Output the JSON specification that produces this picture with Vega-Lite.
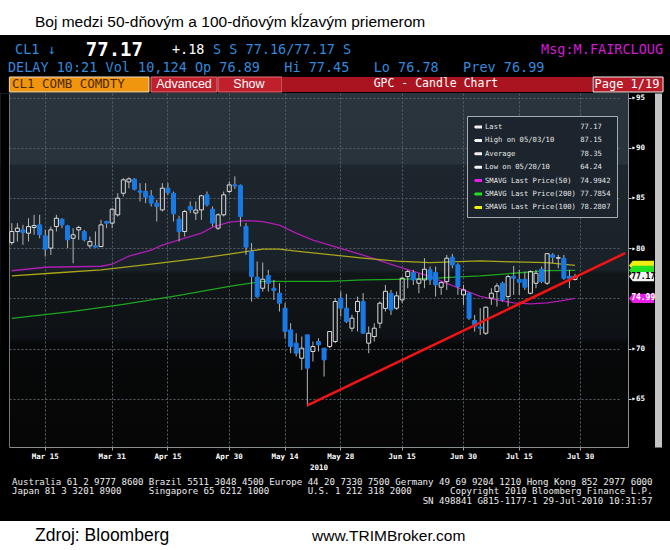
{
"$schema": "https://vega.github.io/schema/vega-lite/v6.json",
"background": "black",
"padding": 0,
"spacing": 0,
"resolve": {"legend": {"fill": "independent", "stroke": "independent"}},
"config": {"view": {"stroke": null}, "concat": {"spacing": 0}},
"datasets": {
"candles": [
{"d":"2010-03-05","o":80.56,"h":82.49,"l":80.33,"c":81.66},
{"d":"2010-03-08","o":81.66,"h":82.49,"l":80.66,"c":81.99},
{"d":"2010-03-09","o":81.82,"h":82.32,"l":80.33,"c":81.56},
{"d":"2010-03-10","o":81.49,"h":82.98,"l":80.66,"c":82.15},
{"d":"2010-03-11","o":82.06,"h":83.32,"l":81.33,"c":82.25},
{"d":"2010-03-12","o":82.32,"h":83.32,"l":80.99,"c":81.33},
{"d":"2010-03-15","o":81.23,"h":81.82,"l":79.17,"c":79.90},
{"d":"2010-03-16","o":80.00,"h":82.15,"l":79.33,"c":81.82},
{"d":"2010-03-17","o":82.15,"h":83.32,"l":81.66,"c":82.98},
{"d":"2010-03-18","o":82.88,"h":82.98,"l":81.99,"c":82.32},
{"d":"2010-03-19","o":82.22,"h":82.32,"l":80.00,"c":80.83},
{"d":"2010-03-22","o":80.99,"h":81.99,"l":78.50,"c":81.33},
{"d":"2010-03-23","o":81.82,"h":82.22,"l":80.83,"c":82.06},
{"d":"2010-03-24","o":81.66,"h":81.82,"l":80.66,"c":80.83},
{"d":"2010-03-25","o":80.23,"h":81.16,"l":80.00,"c":80.66},
{"d":"2010-03-26","o":80.23,"h":81.66,"l":80.05,"c":80.10},
{"d":"2010-03-29","o":80.16,"h":82.82,"l":80.10,"c":82.32},
{"d":"2010-03-30","o":82.65,"h":82.72,"l":81.99,"c":82.49},
{"d":"2010-03-31","o":82.49,"h":83.98,"l":81.99,"c":83.88},
{"d":"2010-04-01","o":83.32,"h":85.47,"l":83.15,"c":84.98},
{"d":"2010-04-05","o":85.47,"h":86.97,"l":85.14,"c":86.80},
{"d":"2010-04-06","o":86.60,"h":87.05,"l":85.97,"c":86.90},
{"d":"2010-04-07","o":86.87,"h":86.97,"l":85.74,"c":85.87},
{"d":"2010-04-08","o":85.70,"h":86.47,"l":84.65,"c":85.57},
{"d":"2010-04-09","o":85.64,"h":86.47,"l":84.48,"c":85.08},
{"d":"2010-04-12","o":85.21,"h":85.80,"l":84.15,"c":84.48},
{"d":"2010-04-13","o":84.48,"h":84.81,"l":82.65,"c":84.15},
{"d":"2010-04-14","o":83.81,"h":86.47,"l":83.65,"c":85.97},
{"d":"2010-04-15","o":85.97,"h":86.47,"l":85.31,"c":85.54},
{"d":"2010-04-16","o":85.47,"h":85.64,"l":82.65,"c":83.42},
{"d":"2010-04-19","o":82.88,"h":83.22,"l":80.66,"c":81.66},
{"d":"2010-04-20","o":81.66,"h":83.81,"l":81.16,"c":83.65},
{"d":"2010-04-21","o":84.15,"h":84.65,"l":83.48,"c":83.81},
{"d":"2010-04-22","o":83.50,"h":84.65,"l":82.80,"c":83.80},
{"d":"2010-04-23","o":83.81,"h":85.31,"l":82.82,"c":85.21},
{"d":"2010-04-26","o":85.31,"h":85.64,"l":84.15,"c":84.31},
{"d":"2010-04-27","o":83.88,"h":84.15,"l":82.15,"c":82.49},
{"d":"2010-04-28","o":81.99,"h":83.48,"l":81.82,"c":83.32},
{"d":"2010-04-29","o":83.32,"h":85.64,"l":83.15,"c":85.31},
{"d":"2010-04-30","o":85.64,"h":86.64,"l":85.47,"c":86.30},
{"d":"2010-05-03","o":86.30,"h":87.15,"l":85.90,"c":86.20},
{"d":"2010-05-04","o":86.25,"h":86.35,"l":82.16,"c":83.15},
{"d":"2010-05-05","o":82.16,"h":82.50,"l":79.33,"c":80.10},
{"d":"2010-05-06","o":79.67,"h":80.50,"l":74.69,"c":77.18},
{"d":"2010-05-07","o":77.11,"h":78.67,"l":75.02,"c":75.18},
{"d":"2010-05-10","o":76.01,"h":78.57,"l":75.68,"c":76.91},
{"d":"2010-05-11","o":77.28,"h":77.84,"l":75.68,"c":76.51},
{"d":"2010-05-12","o":76.01,"h":76.84,"l":74.85,"c":75.78},
{"d":"2010-05-13","o":75.52,"h":76.51,"l":73.69,"c":74.52},
{"d":"2010-05-14","o":74.02,"h":74.52,"l":71.03,"c":71.70},
{"d":"2010-05-17","o":71.86,"h":72.53,"l":69.54,"c":70.20},
{"d":"2010-05-18","o":70.54,"h":71.53,"l":69.21,"c":69.54},
{"d":"2010-05-19","o":69.04,"h":71.20,"l":67.88,"c":70.04},
{"d":"2010-05-20","o":71.37,"h":71.37,"l":64.24,"c":68.05},
{"d":"2010-05-21","o":69.71,"h":70.70,"l":68.71,"c":70.21},
{"d":"2010-05-24","o":70.70,"h":71.03,"l":69.71,"c":70.37},
{"d":"2010-05-25","o":70.04,"h":70.04,"l":67.22,"c":68.88},
{"d":"2010-05-26","o":70.20,"h":71.70,"l":70.04,"c":71.70},
{"d":"2010-05-27","o":70.70,"h":75.02,"l":70.54,"c":74.69},
{"d":"2010-05-28","o":75.02,"h":75.68,"l":73.19,"c":74.02},
{"d":"2010-06-01","o":74.02,"h":75.45,"l":72.53,"c":72.69},
{"d":"2010-06-02","o":72.03,"h":73.36,"l":71.70,"c":73.03},
{"d":"2010-06-03","o":73.69,"h":75.18,"l":71.70,"c":74.69},
{"d":"2010-06-04","o":74.69,"h":75.52,"l":71.50,"c":71.53},
{"d":"2010-06-07","o":70.54,"h":72.20,"l":69.54,"c":71.53},
{"d":"2010-06-08","o":71.20,"h":72.53,"l":70.70,"c":72.03},
{"d":"2010-06-09","o":72.53,"h":74.69,"l":72.03,"c":74.52},
{"d":"2010-06-10","o":74.00,"h":76.34,"l":73.69,"c":75.70},
{"d":"2010-06-11","o":75.51,"h":75.84,"l":73.35,"c":73.85},
{"d":"2010-06-14","o":74.02,"h":75.68,"l":73.85,"c":75.25},
{"d":"2010-06-15","o":74.85,"h":77.17,"l":74.52,"c":77.00},
{"d":"2010-06-16","o":77.17,"h":77.84,"l":76.01,"c":77.67},
{"d":"2010-06-17","o":77.57,"h":77.84,"l":76.34,"c":76.84},
{"d":"2010-06-18","o":76.51,"h":77.50,"l":75.51,"c":76.91},
{"d":"2010-06-21","o":76.84,"h":79.00,"l":76.01,"c":77.90},
{"d":"2010-06-22","o":77.84,"h":78.17,"l":76.34,"c":76.84},
{"d":"2010-06-23","o":77.57,"h":78.17,"l":75.18,"c":76.34},
{"d":"2010-06-24","o":76.11,"h":76.67,"l":75.35,"c":76.57},
{"d":"2010-06-25","o":76.67,"h":79.33,"l":75.84,"c":79.00},
{"d":"2010-06-28","o":79.10,"h":79.43,"l":78.00,"c":78.33},
{"d":"2010-06-29","o":78.33,"h":78.50,"l":75.35,"c":76.18},
{"d":"2010-06-30","o":75.35,"h":76.34,"l":74.35,"c":75.84},
{"d":"2010-07-01","o":75.51,"h":75.60,"l":72.86,"c":73.02},
{"d":"2010-07-02","o":72.79,"h":73.35,"l":71.69,"c":72.19},
{"d":"2010-07-06","o":72.13,"h":74.02,"l":71.36,"c":72.03},
{"d":"2010-07-07","o":71.53,"h":74.18,"l":71.36,"c":74.12},
{"d":"2010-07-08","o":75.02,"h":76.01,"l":74.35,"c":75.51},
{"d":"2010-07-09","o":75.68,"h":76.51,"l":74.18,"c":76.24},
{"d":"2010-07-12","o":76.51,"h":76.67,"l":74.68,"c":74.85},
{"d":"2010-07-13","o":75.18,"h":77.34,"l":74.18,"c":77.17},
{"d":"2010-07-14","o":77.20,"h":78.23,"l":75.35,"c":77.00},
{"d":"2010-07-15","o":76.90,"h":77.84,"l":75.35,"c":76.60},
{"d":"2010-07-16","o":76.91,"h":77.67,"l":75.84,"c":76.11},
{"d":"2010-07-19","o":75.51,"h":77.80,"l":75.40,"c":77.67},
{"d":"2010-07-20","o":76.51,"h":77.84,"l":76.01,"c":77.50},
{"d":"2010-07-21","o":77.90,"h":78.17,"l":76.51,"c":76.67},
{"d":"2010-07-22","o":76.51,"h":79.50,"l":76.34,"c":79.45},
{"d":"2010-07-23","o":79.33,"h":79.50,"l":78.50,"c":79.10},
{"d":"2010-07-26","o":79.00,"h":79.33,"l":78.00,"c":79.05},
{"d":"2010-07-27","o":79.00,"h":79.33,"l":76.84,"c":77.00},
{"d":"2010-07-28","o":77.20,"h":77.84,"l":76.01,"c":76.99},
{"d":"2010-07-29","o":76.89,"h":77.45,"l":76.78,"c":77.17}
],
"ma": [
{"d":"2010-03-05","s":"50","v":77.75},{"d":"2010-03-15","s":"50","v":78.1},{"d":"2010-03-29","s":"50","v":78.2},{"d":"2010-03-31","s":"50","v":78.4},{"d":"2010-04-06","s":"50","v":79.2},{"d":"2010-04-12","s":"50","v":79.8},{"d":"2010-04-14","s":"50","v":80.3},{"d":"2010-04-20","s":"50","v":81.0},{"d":"2010-04-23","s":"50","v":81.5},{"d":"2010-04-27","s":"50","v":82.1},{"d":"2010-04-30","s":"50","v":82.6},{"d":"2010-05-05","s":"50","v":82.75},{"d":"2010-05-10","s":"50","v":82.65},{"d":"2010-05-13","s":"50","v":82.3},{"d":"2010-05-18","s":"50","v":81.5},{"d":"2010-05-21","s":"50","v":80.8},{"d":"2010-05-26","s":"50","v":80.3},{"d":"2010-06-01","s":"50","v":79.8},{"d":"2010-06-04","s":"50","v":79.3},{"d":"2010-06-09","s":"50","v":78.75},{"d":"2010-06-14","s":"50","v":78.2},{"d":"2010-06-17","s":"50","v":77.7},{"d":"2010-06-22","s":"50","v":77.2},{"d":"2010-06-25","s":"50","v":76.5},{"d":"2010-06-30","s":"50","v":75.85},{"d":"2010-07-06","s":"50","v":75.2},{"d":"2010-07-09","s":"50","v":74.85},{"d":"2010-07-14","s":"50","v":74.55},{"d":"2010-07-19","s":"50","v":74.45},{"d":"2010-07-22","s":"50","v":74.55},{"d":"2010-07-27","s":"50","v":74.8},{"d":"2010-07-29","s":"50","v":74.99},
{"d":"2010-03-05","s":"100","v":77.24},{"d":"2010-03-16","s":"100","v":77.5},{"d":"2010-03-29","s":"100","v":77.84},{"d":"2010-04-12","s":"100","v":78.4},{"d":"2010-04-23","s":"100","v":79.0},{"d":"2010-04-30","s":"100","v":79.4},{"d":"2010-05-05","s":"100","v":79.65},{"d":"2010-05-10","s":"100","v":79.9},{"d":"2010-05-13","s":"100","v":79.9},{"d":"2010-05-18","s":"100","v":79.7},{"d":"2010-05-26","s":"100","v":79.35},{"d":"2010-06-04","s":"100","v":79.0},{"d":"2010-06-14","s":"100","v":78.7},{"d":"2010-06-22","s":"100","v":78.55},{"d":"2010-07-06","s":"100","v":78.73},{"d":"2010-07-14","s":"100","v":78.63},{"d":"2010-07-22","s":"100","v":78.55},{"d":"2010-07-29","s":"100","v":78.28},
{"d":"2010-03-05","s":"200","v":73.0},{"d":"2010-03-22","s":"200","v":73.7},{"d":"2010-04-05","s":"200","v":74.4},{"d":"2010-04-19","s":"200","v":75.3},{"d":"2010-04-30","s":"200","v":76.2},{"d":"2010-05-10","s":"200","v":76.7},{"d":"2010-05-18","s":"200","v":76.7},{"d":"2010-05-26","s":"200","v":76.7},{"d":"2010-06-04","s":"200","v":76.85},{"d":"2010-06-14","s":"200","v":76.9},{"d":"2010-06-22","s":"200","v":77.0},{"d":"2010-07-06","s":"200","v":77.24},{"d":"2010-07-14","s":"200","v":77.5},{"d":"2010-07-22","s":"200","v":77.77},{"d":"2010-07-29","s":"200","v":77.79}
],
"trend": [{"d":"2010-05-20","v":64.35},{"d":"2010-08-11","v":79.5}],
"tags": [
{"entry":"SMAVG Last Price(100)\u00a078.2807","tag":78.28},
{"entry":"SMAVG Last Price(200)\u00a077.7854","tag":77.79},
{"entry":"Last\u00a0\u00a0\u00a0\u00a0\u00a0\u00a0\u00a0\u00a0\u00a0\u00a0\u00a0\u00a0\u00a0\u00a0\u00a0\u00a0\u00a0\u00a077.17","tag":77.17},
{"entry":"SMAVG Last Price(50)\u00a0\u00a074.9942","tag":74.99},
{"entry":"High on 05/03/10\u00a0\u00a0\u00a0\u00a0\u00a0\u00a087.15","tag":null},
{"entry":"Average\u00a0\u00a0\u00a0\u00a0\u00a0\u00a0\u00a0\u00a0\u00a0\u00a0\u00a0\u00a0\u00a0\u00a0\u00a078.35","tag":null},
{"entry":"Low on 05/20/10\u00a0\u00a0\u00a0\u00a0\u00a0\u00a0\u00a064.24","tag":null}
]
},
"vconcat": [
{
"width": 670, "height": 35,
"view": {"fill": "white", "stroke": null},
"data": {"values": [{"t": "Boj medzi 50-dňovým a 100-dňovým kĺzavým priemerom"}]},
"mark": {"type": "text", "align": "left", "baseline": "alphabetic", "dx": -300, "dy": 9.5, "font": "Liberation Sans", "fontSize": 15.5, "color": "black"},
"encoding": {"text": {"field": "t"}}
},
{
"width": 670, "height": 58,
"view": {"fill": "black", "stroke": null},
"data": {"values": [{}]},
"layer": [
{"mark": {"type": "rect", "fill": "#f0960e", "stroke": "#e9dcc5", "strokeWidth": 1},
 "encoding": {"x": {"datum": 1.4, "type": "quantitative", "scale": {"domain": [0, 100]}, "axis": null}, "x2": {"datum": 22.24},
  "y": {"datum": 72.4, "type": "quantitative", "scale": {"domain": [0, 100], "reverse": true}, "axis": null}, "y2": {"datum": 98.3}}},
{"mark": {"type": "rect", "fill": "#c0202c", "stroke": "#e4707a", "strokeWidth": 1},
 "encoding": {"x": {"datum": 22.54, "type": "quantitative", "scale": {"domain": [0, 100]}, "axis": null}, "x2": {"datum": 32.39},
  "y": {"datum": 72.4, "type": "quantitative", "scale": {"domain": [0, 100], "reverse": true}, "axis": null}, "y2": {"datum": 98.3}}},
{"mark": {"type": "rect", "fill": "#c0202c", "stroke": "#e4707a", "strokeWidth": 1},
 "encoding": {"x": {"datum": 32.54, "type": "quantitative", "scale": {"domain": [0, 100]}, "axis": null}, "x2": {"datum": 42.09},
  "y": {"datum": 72.4, "type": "quantitative", "scale": {"domain": [0, 100], "reverse": true}, "axis": null}, "y2": {"datum": 98.3}}},
{"mark": {"type": "rect", "fill": "#aa1420"},
 "encoding": {"x": {"datum": 42.16, "type": "quantitative", "scale": {"domain": [0, 100]}, "axis": null}, "x2": {"datum": 88.36},
  "y": {"datum": 72.4, "type": "quantitative", "scale": {"domain": [0, 100], "reverse": true}, "axis": null}, "y2": {"datum": 98.3}}},
{"mark": {"type": "rect", "fill": "#b81a28", "stroke": "#eeeeee", "strokeWidth": 1},
 "encoding": {"x": {"datum": 88.51, "type": "quantitative", "scale": {"domain": [0, 100]}, "axis": null}, "x2": {"datum": 98.96},
  "y": {"datum": 72.4, "type": "quantitative", "scale": {"domain": [0, 100], "reverse": true}, "axis": null}, "y2": {"datum": 98.3}}},
{"mark": {"type": "text", "text": "CL1 COMB COMDTY", "align": "left", "baseline": "middle", "font": "DejaVu Sans Mono", "fontSize": 12.5, "color": "#4d2600"},
 "encoding": {"x": {"datum": 1.79, "type": "quantitative", "scale": {"domain": [0, 100]}, "axis": null},
  "y": {"datum": 85.3, "type": "quantitative", "scale": {"domain": [0, 100], "reverse": true}, "axis": null}}},
{"mark": {"type": "text", "text": "Advanced", "align": "center", "baseline": "middle", "font": "Liberation Sans", "fontSize": 12.5, "color": "white"},
 "encoding": {"x": {"datum": 27.46, "type": "quantitative", "scale": {"domain": [0, 100]}, "axis": null},
  "y": {"datum": 85.3, "type": "quantitative", "scale": {"domain": [0, 100], "reverse": true}, "axis": null}}},
{"mark": {"type": "text", "text": "Show", "align": "center", "baseline": "middle", "font": "Liberation Sans", "fontSize": 12.5, "color": "white"},
 "encoding": {"x": {"datum": 37.16, "type": "quantitative", "scale": {"domain": [0, 100]}, "axis": null},
  "y": {"datum": 85.3, "type": "quantitative", "scale": {"domain": [0, 100], "reverse": true}, "axis": null}}},
{"mark": {"type": "text", "text": "GPC - Candle Chart", "align": "center", "baseline": "middle", "font": "DejaVu Sans Mono", "fontSize": 11.5, "color": "white"},
 "encoding": {"x": {"datum": 65.07, "type": "quantitative", "scale": {"domain": [0, 100]}, "axis": null},
  "y": {"datum": 85.3, "type": "quantitative", "scale": {"domain": [0, 100], "reverse": true}, "axis": null}}},
{"mark": {"type": "text", "text": "Page 1/19", "align": "center", "baseline": "middle", "font": "DejaVu Sans Mono", "fontSize": 12, "color": "white"},
 "encoding": {"x": {"datum": 93.58, "type": "quantitative", "scale": {"domain": [0, 100]}, "axis": null},
  "y": {"datum": 85.3, "type": "quantitative", "scale": {"domain": [0, 100], "reverse": true}, "axis": null}}},
{"mark": {"type": "text", "text": "CL1 ↓", "align": "left", "baseline": "middle", "font": "DejaVu Sans Mono", "fontSize": 13.5, "color": "#3389dd"},
 "encoding": {"x": {"datum": 2.24, "type": "quantitative", "scale": {"domain": [0, 100]}, "axis": null},
  "y": {"datum": 26.5, "type": "quantitative", "scale": {"domain": [0, 100], "reverse": true}, "axis": null}}},
{"mark": {"type": "text", "text": "77.17", "align": "left", "baseline": "middle", "font": "DejaVu Sans Mono", "fontSize": 19, "fontWeight": "bold", "color": "white"},
 "encoding": {"x": {"datum": 12.8, "type": "quantitative", "scale": {"domain": [0, 100]}, "axis": null},
  "y": {"datum": 26.5, "type": "quantitative", "scale": {"domain": [0, 100], "reverse": true}, "axis": null}}},
{"mark": {"type": "text", "text": "+.18", "align": "left", "baseline": "middle", "font": "DejaVu Sans Mono", "fontSize": 13.5, "color": "white"},
 "encoding": {"x": {"datum": 25.67, "type": "quantitative", "scale": {"domain": [0, 100]}, "axis": null},
  "y": {"datum": 26.5, "type": "quantitative", "scale": {"domain": [0, 100], "reverse": true}, "axis": null}}},
{"mark": {"type": "text", "text": "S S 77.16/77.17 S", "align": "left", "baseline": "middle", "font": "DejaVu Sans Mono", "fontSize": 13.5, "color": "#3389dd"},
 "encoding": {"x": {"datum": 31.8, "type": "quantitative", "scale": {"domain": [0, 100]}, "axis": null},
  "y": {"datum": 26.5, "type": "quantitative", "scale": {"domain": [0, 100], "reverse": true}, "axis": null}}},
{"mark": {"type": "text", "text": "Msg:M.FAIRCLOUG", "align": "right", "baseline": "middle", "font": "DejaVu Sans Mono", "fontSize": 13.5, "color": "#d21bd2"},
 "encoding": {"x": {"datum": 98.96, "type": "quantitative", "scale": {"domain": [0, 100]}, "axis": null},
  "y": {"datum": 26.5, "type": "quantitative", "scale": {"domain": [0, 100], "reverse": true}, "axis": null}}},
{"mark": {"type": "text", "text": "DELAY 10:21 Vol 10,124 Op 76.89\u00a0\u00a0\u00a0Hi 77.45\u00a0\u00a0\u00a0Lo 76.78\u00a0\u00a0\u00a0Prev 76.99", "align": "left", "baseline": "middle", "font": "DejaVu Sans Mono", "fontSize": 13.5, "color": "#3389dd"},
 "encoding": {"x": {"datum": 1.19, "type": "quantitative", "scale": {"domain": [0, 100]}, "axis": null},
  "y": {"datum": 57.5, "type": "quantitative", "scale": {"domain": [0, 100], "reverse": true}, "axis": null}}}
]
},
{
"width": 628, "height": 354,
"view": {"fill": {"gradient": "linear", "x1": 0, "y1": 0, "x2": 0, "y2": 1, "stops": [
  {"offset": 0, "color": "#2a343d"}, {"offset": 0.2, "color": "#29333c"}, {"offset": 0.205, "color": "#1d252d"},
  {"offset": 0.5, "color": "#1a2229"}, {"offset": 0.51, "color": "#111619"}, {"offset": 0.69, "color": "#0e1216"},
  {"offset": 0.71, "color": "#070809"}, {"offset": 1, "color": "#060606"}]}, "stroke": null},
"encoding": {
 "x": {"field": "d", "type": "ordinal",
  "scale": {"type": "band", "paddingInner": 0, "paddingOuter": 0, "range": [9, 628], "domain": [
   "2010-03-05","2010-03-08","2010-03-09","2010-03-10","2010-03-11","2010-03-12","2010-03-15","2010-03-16","2010-03-17","2010-03-18","2010-03-19","2010-03-22","2010-03-23","2010-03-24","2010-03-25","2010-03-26","2010-03-29","2010-03-30","2010-03-31",
   "2010-04-01","2010-04-05","2010-04-06","2010-04-07","2010-04-08","2010-04-09","2010-04-12","2010-04-13","2010-04-14","2010-04-15","2010-04-16","2010-04-19","2010-04-20","2010-04-21","2010-04-22","2010-04-23","2010-04-26","2010-04-27","2010-04-28","2010-04-29","2010-04-30",
   "2010-05-03","2010-05-04","2010-05-05","2010-05-06","2010-05-07","2010-05-10","2010-05-11","2010-05-12","2010-05-13","2010-05-14","2010-05-17","2010-05-18","2010-05-19","2010-05-20","2010-05-21","2010-05-24","2010-05-25","2010-05-26","2010-05-27","2010-05-28",
   "2010-06-01","2010-06-02","2010-06-03","2010-06-04","2010-06-07","2010-06-08","2010-06-09","2010-06-10","2010-06-11","2010-06-14","2010-06-15","2010-06-16","2010-06-17","2010-06-18","2010-06-21","2010-06-22","2010-06-23","2010-06-24","2010-06-25","2010-06-28","2010-06-29","2010-06-30",
   "2010-07-01","2010-07-02","2010-07-06","2010-07-07","2010-07-08","2010-07-09","2010-07-12","2010-07-13","2010-07-14","2010-07-15","2010-07-16","2010-07-19","2010-07-20","2010-07-21","2010-07-22","2010-07-23","2010-07-26","2010-07-27","2010-07-28","2010-07-29","2010-07-30",
   "2010-08-02","2010-08-03","2010-08-04","2010-08-05","2010-08-06","2010-08-09","2010-08-10","2010-08-11"]},
  "axis": {
   "values": ["2010-03-15","2010-03-31","2010-04-15","2010-04-30","2010-05-14","2010-05-28","2010-06-15","2010-06-30","2010-07-15","2010-07-30"],
   "labelExpr": "utcFormat(toDate(datum.value), '%b %d')",
   "bandPosition": 0.5,
   "labelAngle": 0, "labelOverlap": false,
   "labelFont": "DejaVu Sans Mono", "labelFontSize": 7.5, "labelFontWeight": "bold", "labelColor": "white", "labelPadding": 2,
   "grid": true, "gridColor": "#56606a", "gridDash": [2, 2], "gridWidth": 1,
   "domain": true, "domainColor": "#8a8f94", "ticks": true, "tickSize": 3, "tickColor": "#9a9a9a",
   "title": "2010", "titleFont": "DejaVu Sans Mono", "titleFontSize": 7.5, "titleFontWeight": "bold", "titleColor": "white", "titlePadding": 4
  }
 }
},
"layer": [
 {"data": {"name": "ma"},
  "mark": {"type": "line", "strokeWidth": 1.3},
  "encoding": {
   "y": {"field": "v", "type": "quantitative", "scale": {"domain": [60.2, 95.45], "zero": false, "nice": false},
     "axis": {"orient": "left", "offset": -4.5, "labels": false, "domain": true, "domainColor": "black", "domainWidth": 9, "grid": false, "ticks": false, "title": null}},
   "stroke": {"field": "s", "type": "nominal", "scale": {"domain": ["50", "100", "200"], "range": ["#b01cb4", "#a8a61a", "#1ea51e"]}, "legend": null}}},
 {"data": {"name": "candles"}, "transform": [{"filter": "datum.c >= datum.o"}],
  "mark": {"type": "rule", "color": "#b4b4b4", "strokeWidth": 1},
  "encoding": {"y": {"field": "h", "type": "quantitative",
     "axis": {"orient": "left", "offset": -9, "labels": false, "domain": true, "domainColor": "#70757a", "domainWidth": 1, "grid": false, "ticks": false, "title": null}},
   "y2": {"field": "c"}}},
 {"data": {"name": "candles"}, "transform": [{"filter": "datum.c >= datum.o"}],
  "mark": {"type": "rule", "color": "#b4b4b4", "strokeWidth": 1},
  "encoding": {"y": {"field": "o", "type": "quantitative", "axis": null}, "y2": {"field": "l"}}},
 {"data": {"name": "candles"}, "transform": [{"filter": "datum.c < datum.o"}],
  "mark": {"type": "rule", "color": "#b4b4b4", "strokeWidth": 1},
  "encoding": {"y": {"field": "h", "type": "quantitative", "axis": null}, "y2": {"field": "o"}}},
 {"data": {"name": "candles"}, "transform": [{"filter": "datum.c < datum.o"}],
  "mark": {"type": "rule", "color": "#b4b4b4", "strokeWidth": 1},
  "encoding": {"y": {"field": "c", "type": "quantitative", "axis": null}, "y2": {"field": "l"}}},
 {"data": {"name": "candles"},
  "mark": {"type": "bar", "width": 4, "strokeWidth": 1},
  "encoding": {
   "y": {"field": "o", "type": "quantitative",
     "axis": {"orient": "right", "values": [65, 70, 75, 80, 85, 90, 95], "title": null,
      "labelExpr": "datum.value == 75 ? '' : '▸' + datum.label",
      "labelFont": "DejaVu Sans Mono", "labelFontSize": 7.5, "labelFontWeight": "bold", "labelColor": "white", "labelPadding": 0,
      "grid": true, "gridColor": "#56606a", "gridDash": [2, 2], "gridWidth": 1,
      "domain": true, "domainColor": "#8a8f94", "ticks": true, "tickSize": 3, "tickColor": "#d0d0d0"}},
   "y2": {"field": "c"},
   "fill": {"condition": {"test": "datum.c >= datum.o", "value": "transparent"}, "value": "#1a7ae4"},
   "stroke": {"condition": {"test": "datum.c >= datum.o", "value": "#dadada"}, "value": "#1a7ae4"}}},
 {"data": {"name": "trend"},
  "mark": {"type": "line", "color": "#f01414", "strokeWidth": 2.6},
  "encoding": {"y": {"field": "v", "type": "quantitative",
     "axis": {"orient": "right", "offset": 30, "labels": false, "ticks": false, "grid": false, "domain": true, "domainColor": "#c4c4c4", "domainWidth": 7, "title": null}}}},
 {"data": {"name": "tags"},
  "mark": {"type": "point", "shape": "M-1,0L-0.7,-0.37H1V0.37H-0.7Z", "size": 625, "filled": true, "opacity": 1, "strokeWidth": 0, "xOffset": 16.3},
  "encoding": {
   "x": {"datum": "2010-08-11", "type": "ordinal"},
   "y": {"field": "tag", "type": "quantitative", "axis": null},
   "fill": {"field": "entry", "type": "nominal",
    "scale": {"domain": [
      "Last\u00a0\u00a0\u00a0\u00a0\u00a0\u00a0\u00a0\u00a0\u00a0\u00a0\u00a0\u00a0\u00a0\u00a0\u00a0\u00a0\u00a0\u00a077.17",
      "High on 05/03/10\u00a0\u00a0\u00a0\u00a0\u00a0\u00a087.15",
      "Average\u00a0\u00a0\u00a0\u00a0\u00a0\u00a0\u00a0\u00a0\u00a0\u00a0\u00a0\u00a0\u00a0\u00a0\u00a078.35",
      "Low on 05/20/10\u00a0\u00a0\u00a0\u00a0\u00a0\u00a0\u00a064.24",
      "SMAVG Last Price(50)\u00a0\u00a074.9942",
      "SMAVG Last Price(200)\u00a077.7854",
      "SMAVG Last Price(100)\u00a078.2807"],
     "range": ["#f2f2f2", "#f2f2f2", "#f2f2f2", "#f2f2f2", "#e81ee8", "#22e022", "#eeee10"]},
    "legend": {"title": null, "orient": "none", "legendX": 467, "legendY": 23,
     "fillColor": "#1c252e", "strokeColor": "#a8acb0", "padding": 6,
     "labelFont": "DejaVu Sans Mono", "labelFontSize": 7.2, "labelColor": "#e4e4e4", "labelLimit": 300, "labelOffset": 2,
     "symbolSize": 64, "rowPadding": 4.4, "symbolStrokeWidth": 1.2,
     "encode": {"symbols": {"update": {
       "shape": {"signal": "indexof(datum.value, 'High') === 0 ? 'M-1,-1H1M0,-1V1' : indexof(datum.value, 'Low') === 0 ? 'M-1,1H1M0,1V-1' : indexof(datum.value, 'Average') === 0 ? 'M-1,0H1M0,-0.6V0.6' : 'square'"},
       "stroke": {"signal": "(indexof(datum.value, 'High') === 0 || indexof(datum.value, 'Low') === 0 || indexof(datum.value, 'Average') === 0) ? '#e8e8e8' : 'transparent'"},
       "strokeWidth": {"value": 1.2}, "opacity": {"value": 1}}}}}}}},
 {"data": {"name": "tags"},
  "transform": [{"filter": "datum.tag != null && (indexof(datum.entry, 'Last') === 0 || indexof(datum.entry, '(50)') > 0)"}],
  "mark": {"type": "text", "align": "center", "baseline": "middle", "font": "DejaVu Sans Mono", "fontSize": 8, "fontWeight": "bold", "xOffset": 18},
  "encoding": {
   "x": {"datum": "2010-08-11", "type": "ordinal"},
   "y": {"field": "tag", "type": "quantitative", "axis": null},
   "text": {"field": "tag", "type": "quantitative", "format": ".2f"},
   "color": {"condition": {"test": "indexof(datum.entry, '(50)') > 0", "value": "white"}, "value": "black"}}}
],
"resolve": {"axis": {"y": "independent"}}
},
{
"width": 670, "height": 50,
"view": {"fill": "black", "stroke": null},
"data": {"values": [{}]},
"layer": [
{"mark": {"type": "text", "text": "Australia 61 2 9777 8600 Brazil 5511 3048 4500 Europe 44 20 7330 7500 Germany 49 69 9204 1210 Hong Kong 852 2977 6000", "align": "left", "baseline": "middle", "font": "DejaVu Sans Mono", "fontSize": 9.1, "color": "#ececec"},
 "encoding": {"x": {"datum": 1.79, "type": "quantitative", "scale": {"domain": [0, 100]}, "axis": null},
  "y": {"datum": 22, "type": "quantitative", "scale": {"domain": [0, 100], "reverse": true}, "axis": null}}},
{"mark": {"type": "text", "text": "Japan 81 3 3201 8900\u00a0\u00a0\u00a0\u00a0\u00a0Singapore 65 6212 1000\u00a0\u00a0\u00a0\u00a0\u00a0\u00a0\u00a0U.S. 1 212 318 2000\u00a0\u00a0\u00a0\u00a0\u00a0\u00a0\u00a0Copyright 2010 Bloomberg Finance L.P.", "align": "left", "baseline": "middle", "font": "DejaVu Sans Mono", "fontSize": 9.1, "color": "#ececec"},
 "encoding": {"x": {"datum": 1.79, "type": "quantitative", "scale": {"domain": [0, 100]}, "axis": null},
  "y": {"datum": 40, "type": "quantitative", "scale": {"domain": [0, 100], "reverse": true}, "axis": null}}},
{"mark": {"type": "text", "text": "SN 498841 G815-1177-1 29-Jul-2010 10:31:57", "align": "right", "baseline": "middle", "font": "DejaVu Sans Mono", "fontSize": 9.1, "color": "#ececec"},
 "encoding": {"x": {"datum": 97.4, "type": "quantitative", "scale": {"domain": [0, 100]}, "axis": null},
  "y": {"datum": 60, "type": "quantitative", "scale": {"domain": [0, 100], "reverse": true}, "axis": null}}}
]
},
{
"width": 670, "height": 30,
"view": {"fill": "white", "stroke": null},
"data": {"values": [{"a": "Zdroj: Bloomberg", "b": "www.TRIMBroker.com"}]},
"layer": [
 {"mark": {"type": "text", "align": "left", "baseline": "middle", "dx": -300, "font": "Liberation Sans", "fontSize": 17.5, "color": "black"},
  "encoding": {"text": {"field": "a"}}},
 {"mark": {"type": "text", "align": "left", "baseline": "middle", "dx": -23, "font": "Liberation Sans", "fontSize": 15.5, "color": "black"},
  "encoding": {"text": {"field": "b"}}}
]
}
]
}
